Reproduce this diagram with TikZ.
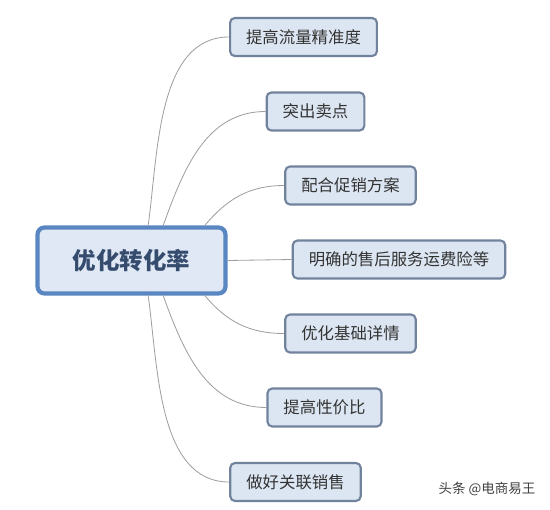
\documentclass[tikz,border=0pt]{standalone}
\usepackage{fontspec}
\setmainfont{Noto Sans CJK SC}
\definecolor{boxfill}{HTML}{DCE6F2}
\definecolor{leafline}{HTML}{71839C}
\definecolor{coreline}{HTML}{5A86C2}
\definecolor{corefill}{HTML}{DFE8F4}
\definecolor{coretext}{HTML}{354C6E}
\definecolor{branchgray}{HTML}{9E9E9E}
\begin{document}
\begin{tikzpicture}[x=0.03cm, y=-0.03cm, every node/.style={font=\fontsize{14}{16}\selectfont},
  leaf/.style={draw=leafline, fill=boxfill, rounded corners=4pt, line width=1.8pt, inner xsep=0.48cm, minimum height=1.14cm, text=black!80},
  branch/.style={draw=branchgray, line width=0.7pt}]
\useasboundingbox (0,0) rectangle (550,510);
\node (core) [draw=coreline, fill=corefill, line width=3.6pt, rounded corners=6pt, minimum width=5.64cm, minimum height=1.98cm, text=coretext, font=\fontsize{20}{24}\selectfont\bfseries] at (131.5,260.5) {优化转化率};
\node (b1) [leaf] at (303.5,37) {提高流量精准度};
\node (b2) [leaf] at (315.5,111.5) {突出卖点};
\node (b3) [leaf] at (350.5,185.5) {配合促销方案};
\node (b4) [leaf] at (399,259.5) {明确的售后服务运费险等};
\node (b5) [leaf] at (350.5,333.5) {优化基础详情};
\node (b6) [leaf] at (324.5,407.5) {提高性价比};
\node (b7) [leaf] at (295.5,482) {做好关联销售};
\node (mark) [text=black!75, font=\fontsize{11.5}{13}\selectfont] at (487,489) {头条 @电商易王};

\draw[branch] ([xshift=0.5cm]core.north) to[out=82, in=180, looseness=0.9] (b1.west);
\draw[branch] ([xshift=0.95cm]core.north) to[out=70, in=180] (b2.west);
\draw[branch] ([xshift=2.2cm]core.north) to[out=50, in=180] (b3.west);
\draw[branch] (core.east) -- (b4.west);
\draw[branch] ([xshift=2.2cm]core.south) to[out=-50, in=180] (b5.west);
\draw[branch] ([xshift=0.95cm]core.south) to[out=-70, in=180] (b6.west);
\draw[branch] ([xshift=0.5cm]core.south) to[out=-82, in=180, looseness=0.9] (b7.west);
\end{tikzpicture}
\end{document}
